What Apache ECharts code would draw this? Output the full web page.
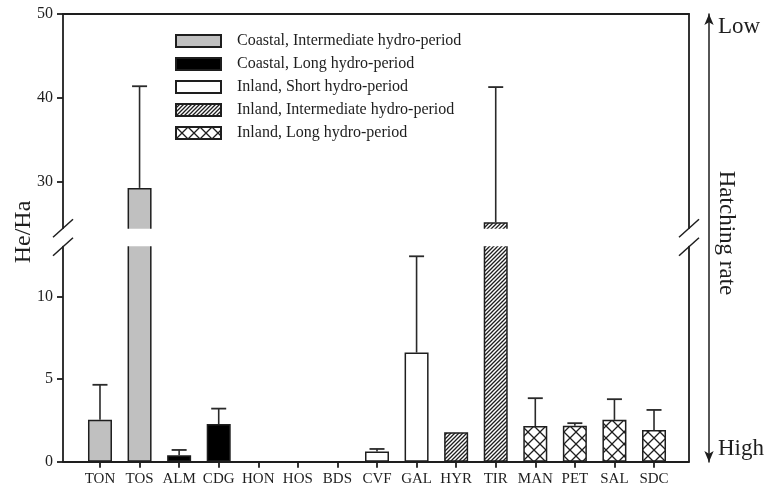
<!DOCTYPE html>
<html>
<head>
<meta charset="utf-8">
<script src="https://cdn.jsdelivr.net/npm/echarts@6/dist/echarts.min.js"></script>
<style>
  html, body { margin: 0; padding: 0; background: #fff; }
  #chart { width: 767px; height: 492px; }
</style>
</head>
<body>
<div id="chart"></div>
<script>
// Sites and hatching ratio (He/Ha): mean and upper end of the error bar
const sites = ['TON', 'TOS', 'ALM', 'CDG', 'HON', 'HOS', 'BDS', 'CVF', 'GAL', 'HYR', 'TIR', 'MAN', 'PET', 'SAL', 'SDC'];
const meanRatio = [2.53, 29.3, 0.39, 2.28, 0, 0, 0, 0.61, 6.6, 1.78, 25.2, 2.16, 2.18, 2.53, 1.92];
const errorTop = [4.65, 41.4, 0.71, 3.21, null, null, null, 0.77, 12.42, null, 41.3, 3.84, 2.33, 3.78, 3.13];

// Habitat group of every site (index into groupNames)
const groupNames = [
  'Coastal, Intermediate hydro-period',
  'Coastal, Long hydro-period',
  'Inland, Short hydro-period',
  'Inland, Intermediate hydro-period',
  'Inland, Long hydro-period'
];
const siteGroup = [0, 0, 1, 1, 2, 2, 2, 2, 2, 3, 3, 4, 4, 4, 4];

// Broken value axis: lower and upper segments
const lowerRange = [0, 13];
const upperRange = [24.5, 50];
const lowerTicks = [0, 5, 10];
const upperTicks = [30, 40, 50];

const FONT = "'Liberation Serif', 'Times New Roman', serif";
const INK = '#1e1e1e';

// Plot geometry (pixels)
const PLOT_LEFT = 63, PLOT_RIGHT = 689, ARROW_X = 709;
const UP_TOP = 14, UP_BOTTOM = 228.2;
const LOW_TOP = 246.7, LOW_BOTTOM = 461.7;
const BAR_LEFT = 80.2, BAR_WIDTH = 593.6;
// Bar grids reach a little into the break gap so clipped bar ends fall inside it
const lowPx = (LOW_BOTTOM - LOW_TOP) / (lowerRange[1] - lowerRange[0]);
const upPx = (UP_BOTTOM - UP_TOP) / (upperRange[1] - upperRange[0]);
const lowBarMax = lowerRange[1] + 0.4;
const upBarMin = upperRange[0] - 0.8;

function makePattern(size, draw) {
  const c = document.createElement('canvas');
  c.width = size; c.height = size;
  const ctx = c.getContext('2d');
  ctx.fillStyle = '#fff';
  ctx.fillRect(0, 0, size, size);
  ctx.strokeStyle = INK;
  ctx.lineWidth = 1.3;
  draw(ctx, size);
  return c;
}
const hatch = makePattern(4, (ctx, s) => {
  ctx.beginPath();
  ctx.moveTo(-1, s + 1); ctx.lineTo(s + 1, -1);
  ctx.moveTo(-1, 1); ctx.lineTo(1, -1);
  ctx.moveTo(s - 1, s + 1); ctx.lineTo(s + 1, s - 1);
  ctx.stroke();
});
const cross = makePattern(12, (ctx, s) => {
  ctx.beginPath();
  ctx.moveTo(0, 0); ctx.lineTo(s, s);
  ctx.moveTo(s, 0); ctx.lineTo(0, s);
  ctx.stroke();
});
const fills = ['#c0c0c0', '#000000', '#ffffff',
  { image: hatch, repeat: 'repeat' },
  { image: cross, repeat: 'repeat' }];

const chart = echarts.init(document.getElementById('chart'), null, { renderer: 'canvas' });

const axisLineStyle = { color: INK, width: 1.8 };
const frameX = (gridIndex, position) => ({
  gridIndex, type: 'value', min: 0, max: 1, position,
  axisLine: { show: true, onZero: false, lineStyle: axisLineStyle },
  axisTick: { show: false }, axisLabel: { show: false }, splitLine: { show: false }
});
const hiddenX = (gridIndex) => ({ gridIndex, type: 'value', min: 0, max: 1, show: false });
const valueLeft = (gridIndex, range, ticks) => ({
  gridIndex, type: 'value', min: range[0], max: range[1], position: 'left',
  axisLine: { show: true, onZero: false, lineStyle: axisLineStyle },
  axisTick: { show: true, length: 6, customValues: ticks, lineStyle: axisLineStyle },
  axisLabel: { customValues: ticks, margin: 10, fontFamily: FONT, fontSize: 16, color: INK },
  splitLine: { show: false }
});
const frameRight = (gridIndex, range) => ({
  gridIndex, type: 'value', min: range[0], max: range[1], position: 'right',
  axisLine: { show: true, onZero: false, lineStyle: axisLineStyle },
  axisTick: { show: false }, axisLabel: { show: false }, splitLine: { show: false }
});
const gridBox = (left, width, top, height) => ({ left, width, top, height, outerBoundsMode: 'none', containLabel: false });

// Bars: one series per habitat group in each axis segment
const series = [];
groupNames.forEach((name, g) => {
  const base = {
    name, type: 'bar', barWidth: 24, barGap: '-100%', clip: true,
    itemStyle: { color: fills[g], borderColor: INK, borderWidth: 1.5 },
    emphasis: { disabled: true }
  };
  series.push(Object.assign({}, base, {
    xAxisIndex: 3, yAxisIndex: 5,
    data: meanRatio.map((v, i) => siteGroup[i] === g ? v : '-')
  }));
  series.push(Object.assign({}, base, {
    xAxisIndex: 2, yAxisIndex: 4,
    data: meanRatio.map((v, i) => siteGroup[i] === g && v > upperRange[0] ? v : '-')
  }));
});

// Error bars clipped to each segment; the cap is drawn where the bar ends inside it
function errorSeries(xIdx, yIdx, range) {
  const data = [];
  sites.forEach((s, i) => {
    const hi = errorTop[i];
    if (hi == null) return;
    const lo = meanRatio[i];
    if (hi <= range[0] || lo >= range[1]) return;
    data.push([i, Math.max(lo, range[0]), Math.min(hi, range[1]), hi <= range[1] ? 1 : 0]);
  });
  return {
    type: 'custom', xAxisIndex: xIdx, yAxisIndex: yIdx, data,
    encode: { x: 0, y: [1, 2] }, z: 3,
    renderItem(params, api) {
      const x = api.value(0);
      const p0 = api.coord([x, api.value(1)]);
      const p1 = api.coord([x, api.value(2)]);
      const children = [{
        type: 'line', shape: { x1: p0[0], y1: p0[1], x2: p1[0], y2: p1[1] },
        style: { stroke: '#2a2a2a', lineWidth: 1.6 }
      }];
      if (api.value(3)) {
        children.push({
          type: 'line', shape: { x1: p1[0] - 7.5, y1: p1[1], x2: p1[0] + 7.5, y2: p1[1] },
          style: { stroke: '#2a2a2a', lineWidth: 1.8 }
        });
      }
      return { type: 'group', children };
    }
  };
}
series.push(errorSeries(3, 5, lowerRange));
series.push(errorSeries(2, 4, upperRange));

const option = {
  animation: false,
  backgroundColor: '#fff',
  grid: [
    gridBox(PLOT_LEFT, PLOT_RIGHT - PLOT_LEFT, UP_TOP, UP_BOTTOM - UP_TOP),
    gridBox(PLOT_LEFT, PLOT_RIGHT - PLOT_LEFT, LOW_TOP, LOW_BOTTOM - LOW_TOP),
    gridBox(BAR_LEFT, BAR_WIDTH, UP_TOP, UP_BOTTOM - UP_TOP + (upperRange[0] - upBarMin) * upPx),
    gridBox(BAR_LEFT, BAR_WIDTH, LOW_TOP - (lowBarMax - lowerRange[1]) * lowPx, LOW_BOTTOM - LOW_TOP + (lowBarMax - lowerRange[1]) * lowPx),
    gridBox(PLOT_LEFT, ARROW_X - PLOT_LEFT, 14, 448),
    gridBox(PLOT_LEFT, PLOT_RIGHT - PLOT_LEFT, 14, 436)
  ],
  legend: {
    data: groupNames, orient: 'vertical', left: 170, top: 28,
    itemWidth: 45, itemHeight: 12, itemGap: 7, icon: 'rect', selectedMode: false,
    textStyle: { fontFamily: FONT, fontSize: 16, color: INK, lineHeight: 16, padding: [0, 0, 0, 11] }
  },
  xAxis: [
    frameX(0, 'top'),
    frameX(1, 'bottom'),
    { gridIndex: 2, type: 'category', data: sites, show: false },
    {
      gridIndex: 3, type: 'category', data: sites, position: 'bottom',
      axisLine: { show: false, onZero: false },
      axisTick: { show: true, alignWithLabel: true, length: 6, lineStyle: axisLineStyle },
      axisLabel: { margin: 10, fontFamily: FONT, fontSize: 15, color: INK, interval: 0 }
    },
    hiddenX(4),
    hiddenX(5)
  ],
  yAxis: [
    valueLeft(0, upperRange, upperTicks),
    frameRight(0, upperRange),
    valueLeft(1, lowerRange, lowerTicks),
    frameRight(1, lowerRange),
    { gridIndex: 2, type: 'value', min: upBarMin, max: upperRange[1], show: false },
    { gridIndex: 3, type: 'value', min: lowerRange[0], max: lowBarMax, show: false },
    {
      gridIndex: 4, type: 'value', min: 0, max: 1, position: 'right',
      axisLine: { show: true, onZero: false, symbol: ['arrow', 'arrow'], symbolSize: [7, 11], lineStyle: { color: INK, width: 1.5 } },
      axisTick: { show: false }, splitLine: { show: false },
      axisLabel: {
        customValues: [0.03, 0.97], margin: 9, fontFamily: FONT, fontSize: 23, color: INK,
        formatter: (v) => (v > 0.5 ? 'Low' : 'High')
      },
      name: 'Hatching rate', nameLocation: 'middle', nameRotate: -90, nameGap: 6, nameMoveOverlap: false,
      nameTextStyle: { fontFamily: FONT, fontSize: 23, color: INK, padding: [0, 10, 0, 0] }
    },
    {
      gridIndex: 5, type: 'value', min: 0, max: 1, position: 'left',
      axisLine: { show: false, onZero: false }, axisTick: { show: false }, axisLabel: { show: false }, splitLine: { show: false },
      name: 'He/Ha', nameLocation: 'middle', nameRotate: 90, nameGap: 27, nameMoveOverlap: false,
      nameTextStyle: { fontFamily: FONT, fontSize: 24, color: INK }
    }
  ],
  series
};
chart.setOption(option);

// Axis break: blank band between the two segments plus slash marks on both frame sides
const breakGraphics = [];
const gapTop = chart.convertToPixel({ xAxisIndex: 0, yAxisIndex: 0 }, [0, upperRange[0]]);
const gapBottom = chart.convertToPixel({ xAxisIndex: 1, yAxisIndex: 2 }, [1, lowerRange[1]]);
breakGraphics.push({
  type: 'rect', silent: true, z: 9,
  shape: { x: gapTop[0] + 1, y: gapTop[1] + 0.5, width: gapBottom[0] - gapTop[0] - 2, height: gapBottom[1] - gapTop[1] - 1 },
  style: { fill: '#fff' }
});
[[0, 0, upperRange[0]], [1, 2, lowerRange[1]]].forEach(([xIdx, yIdx, v]) => {
  [0, 1].forEach((side) => {
    const p = chart.convertToPixel({ xAxisIndex: xIdx, yAxisIndex: yIdx }, [side, v]);
    breakGraphics.push({
      type: 'line', silent: true, z: 10,
      shape: { x1: p[0] - 10, y1: p[1] + 9, x2: p[0] + 10, y2: p[1] - 9 },
      style: { stroke: INK, lineWidth: 1.5 }
    });
  });
});
chart.setOption({ graphic: breakGraphics });
</script>
</body>
</html>
